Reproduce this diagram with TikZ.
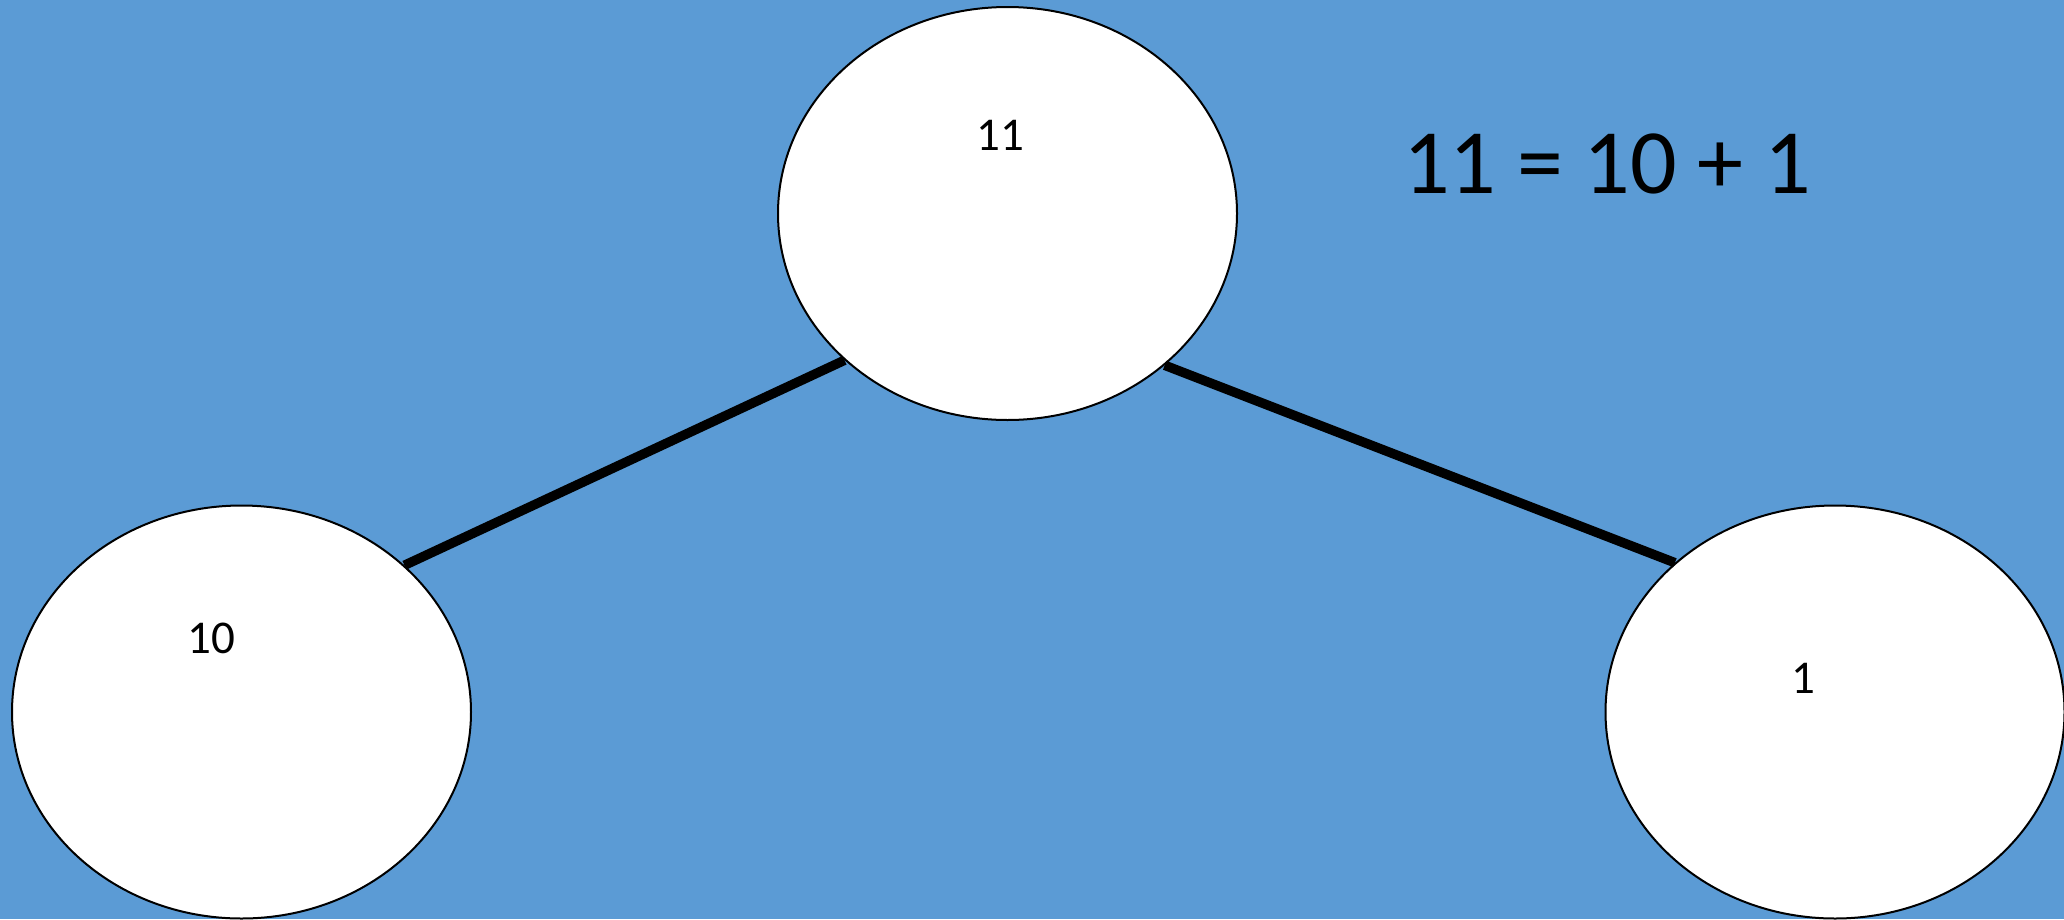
\documentclass[tikz,border=0pt]{standalone}
\usepackage{fontspec}
\setmainfont{Carlito}
\usetikzlibrary{shapes.geometric}
\definecolor{bgblue}{RGB}{91,155,213}
\tikzset{
  treenode/.style={ellipse, draw=black, line width=2pt, fill=white, minimum width=459pt, minimum height=413pt, inner sep=0pt},
  numlabel/.style={inner sep=0pt, font=\fontsize{47}{50}\selectfont},
  edgeline/.style={line width=9.5pt, draw=black}
}
\begin{document}
\begin{tikzpicture}[x=1pt,y=-1pt]
\fill[bgblue] (0,0) rectangle (2064,919);
\useasboundingbox (0,0) rectangle (2064,919);
\node[treenode] (top) at (1007.5,213.5) {};
\node[treenode] (left) at (241.5,712) {};
\node[treenode] (right) at (1835,712) {};
\draw[edgeline] (top.222.4) -- (left.42.2);
\draw[edgeline] (top.316.5) -- (right.137.8);
\node[numlabel] (t11) at (1000,135) {11};
\node[numlabel] (t10) at (211,638) {10};
\node[numlabel] (t1) at (1803,678) {1};
\node[inner sep=0pt, font=\fontsize{92}{96}\selectfont] (eq) at (1607,164) {11 = 10 + 1};
\end{tikzpicture}
\end{document}
